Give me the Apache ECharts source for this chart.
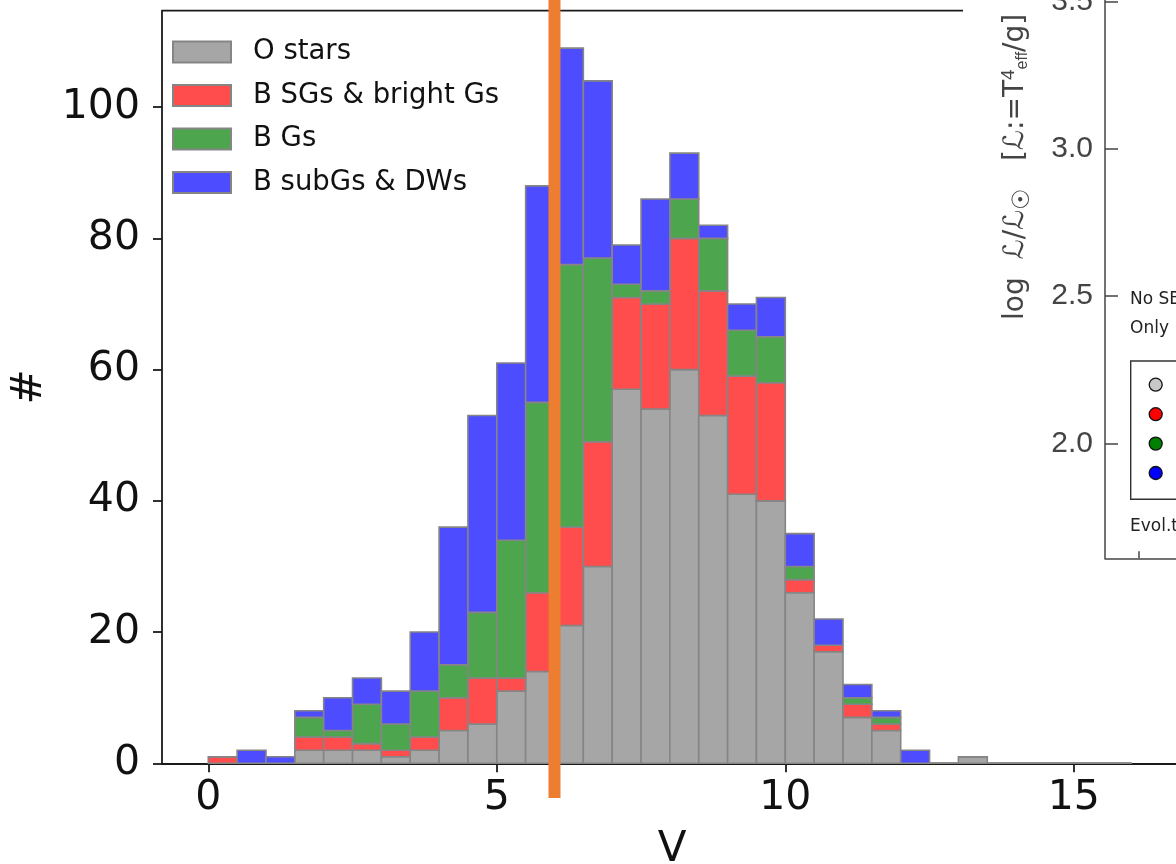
<!DOCTYPE html>
<html>
<head>
<meta charset="utf-8">
<script src="https://cdn.jsdelivr.net/npm/echarts@6/dist/echarts.min.js"></script>
<style>
html, body { margin: 0; padding: 0; background: #fff; }
#chart { width: 1176px; height: 864px; }
</style>
</head>
<body>
<div id="chart"></div>
<script>
// histogram bins (V magnitude), 0.5 mag wide starting at 0
var binStart = 0;
var binWidth = 0.5;
var oStars = [0, 0, 0, 2, 2, 2, 1, 2, 5, 6, 11, 14, 21, 30, 57, 54, 60, 53, 41, 40, 26, 17, 7, 5, 0, 0, 1, 0, 0, 0, 0, 0];
var bSGs   = [1, 0, 0, 2, 2, 1, 1, 2, 5, 7, 2, 12, 15, 19, 14, 16, 20, 19, 18, 18, 2, 1, 2, 1, 0, 0, 0, 0, 0, 0, 0, 0];
var bGs    = [0, 0, 0, 3, 1, 6, 4, 7, 5, 10, 21, 29, 40, 28, 2, 2, 6, 8, 7, 7, 2, 0, 1, 1, 0, 0, 0, 0, 0, 0, 0, 0];
var bSub   = [0, 2, 1, 1, 5, 4, 5, 9, 21, 30, 27, 33, 33, 27, 6, 14, 7, 2, 4, 6, 5, 4, 2, 1, 2, 0, 0, 0, 0, 0, 0, 0];
var seriesNames = ['O stars', 'B SGs & bright Gs', 'B Gs', 'B subGs & DWs'];
var seriesColors = ['#a6a6a6', '#ff4d4d', '#4da64d', '#4d4dff'];
var edgeColor = '#858585';
var xTicks = [0, 5, 10, 15];
var yTicks = [0, 20, 40, 60, 80, 100];
var cutV = 6;

// cropped neighbour panel on the right
var lumTicks = [2.0, 2.5, 3.0, 3.5];
var lumMinor = [1.7, 1.8, 1.9, 2.1, 2.2, 2.3, 2.4, 2.6, 2.7, 2.8, 2.9, 3.1, 3.2, 3.3, 3.4];
var lumLegendColors = ['#c8c8c8', '#ff0000', '#008000', '#0000ff'];

var chart = echarts.init(document.getElementById('chart'));

// stack the four classes: each rect is [x0, x1, bottom, top]
var counts = [oStars, bSGs, bGs, bSub];
var running = oStars.map(function () { return 0; });
var stacked = counts.map(function (arr) {
    return arr.map(function (v, i) {
        var x0 = binStart + binWidth * i;
        var item = [x0, x0 + binWidth, running[i], running[i] + v];
        running[i] += v;
        return item;
    });
});

function renderBin(k) {
    return function (params, api) {
        var p0 = api.coord([api.value(0), api.value(2)]);
        var p1 = api.coord([api.value(1), api.value(3)]);
        return {
            type: 'rect',
            shape: { x: p0[0], y: p1[1], width: p1[0] - p0[0], height: p0[1] - p1[1] },
            style: { fill: seriesColors[k], stroke: edgeColor, lineWidth: 1.6 }
        };
    };
}

var histSeries = stacked.map(function (rows, k) {
    return {
        name: seriesNames[k],
        type: 'custom',
        xAxisIndex: 0,
        yAxisIndex: 0,
        renderItem: renderBin(k),
        encode: { x: [0, 1], y: [2, 3] },
        itemStyle: { color: seriesColors[k], borderColor: edgeColor, borderWidth: 1.6 },
        data: rows
    };
});

var axisBlack = { color: '#1a1a1a', width: 1.8 };
var lumGrey = '#444';

var option = {
    animation: false,
    backgroundColor: '#fff',
    textStyle: { fontFamily: 'DejaVu Sans' },
    grid: [
        { left: 162, top: 10.7, right: -6, bottom: 100.7, outerBoundsMode: 'none', containLabel: false },
        { left: 1105, top: 0, right: -100, bottom: 305.7, outerBoundsMode: 'none', containLabel: false }
    ],
    legend: {
        orient: 'vertical',
        left: 172,
        top: 38,
        padding: 0,
        itemWidth: 58,
        itemHeight: 21,
        itemGap: 15.5,
        icon: 'rect',
        data: seriesNames,
        textStyle: {
            fontSize: 27.5,
            color: '#111',
            fontFamily: 'DejaVu Sans',
            padding: [0, 0, 0, 17]
        }
    },
    xAxis: [{
        type: 'value',
        gridIndex: 0,
        min: -0.802,
        max: 16.875,
        name: 'V',
        nameLocation: 'middle',
        nameGap: 66,
        nameTextStyle: { fontSize: 42, color: '#111' },
        axisLine: { onZero: false, lineStyle: axisBlack },
        axisTick: { show: true, length: 9, lineStyle: axisBlack, customValues: xTicks },
        axisLabel: { fontSize: 41, color: '#111', margin: 15, customValues: xTicks },
        splitLine: { show: false }
    }, {
        type: 'value',
        gridIndex: 1,
        min: 0,
        max: 1,
        axisLine: { onZero: false, lineStyle: { color: lumGrey, width: 1.5 } },
        axisTick: { show: true, inside: true, length: 7, lineStyle: { color: lumGrey, width: 1.5 }, customValues: [0.2] },
        axisLabel: { show: false },
        splitLine: { show: false }
    }],
    yAxis: [{
        type: 'value',
        gridIndex: 0,
        min: 0,
        max: 114.7,
        name: '#',
        nameLocation: 'middle',
        nameGap: 110,
        nameTextStyle: { fontSize: 42, color: '#111' },
        axisLine: { show: true, onZero: false, lineStyle: axisBlack },
        axisTick: { show: true, length: 9, lineStyle: axisBlack, customValues: yTicks },
        axisLabel: { fontSize: 41, color: '#111', margin: 22, customValues: yTicks },
        splitLine: { show: false }
    }, {
        type: 'value',
        gridIndex: 1,
        min: 1.6096,
        max: 3.5044,
        axisLine: { show: true, onZero: false, lineStyle: { color: lumGrey, width: 1.5 } },
        axisTick: { show: true, inside: true, length: 13, lineStyle: { color: lumGrey, width: 1.5 }, customValues: lumTicks },
        axisLabel: {
            fontSize: 30, color: lumGrey, margin: 12, fontFamily: 'Liberation Sans',
            customValues: lumTicks,
            formatter: function (v) { return v.toFixed(1); }
        },
        splitLine: { show: false }
    }, {
        type: 'value',
        gridIndex: 1,
        min: 1.6096,
        max: 3.5044,
        axisLine: { show: false, onZero: false },
        axisTick: { show: true, inside: true, length: 7, lineStyle: { color: lumGrey, width: 1.5 }, customValues: lumMinor },
        axisLabel: { show: false },
        splitLine: { show: false }
    }],
    series: histSeries
};

chart.setOption(option);

var cutX = chart.convertToPixel({ xAxisIndex: 0 }, cutV);

chart.setOption({
    graphic: [
        // top spine of the histogram (right part hidden by the neighbour panel)
        { type: 'line', z: 5, shape: { x1: 162, y1: 10.7, x2: 963, y2: 10.7 }, style: { stroke: '#1a1a1a', lineWidth: 1.8 } },
        // orange marker at V = 6
        { type: 'line', z: 20, shape: { x1: cutX, y1: 0, x2: cutX, y2: 798 }, style: { stroke: '#ed7d31', lineWidth: 12 } },
        // neighbour panel: y title
        {
            type: 'text', z: 10, x: 1016, y: 320, rotation: Math.PI / 2,
            style: {
                text: 'log  ℒ/ℒ{sun|☉}   [ℒ:=T{sup|4}{sub|eff}/g]',
                fontSize: 28, fill: lumGrey, fontFamily: 'DejaVu Sans',
                align: 'left', verticalAlign: 'middle',
                rich: {
                    sun: { fontSize: 24, fill: lumGrey, padding: [12, 0, 0, 0] },
                    sup: { fontSize: 19, fill: lumGrey, padding: [0, 0, 14, 0] },
                    sub: { fontSize: 16, fill: lumGrey, padding: [14, 0, 0, 0] }
                }
            }
        },
        { type: 'text', z: 10, x: 1130, y: 300, style: { text: 'No SB2', fontSize: 17, fill: '#222', fontFamily: 'DejaVu Sans', verticalAlign: 'middle' } },
        { type: 'text', z: 10, x: 1130, y: 329, style: { text: 'Only  s', fontSize: 17, fill: '#222', fontFamily: 'DejaVu Sans', verticalAlign: 'middle' } },
        { type: 'rect', z: 10, shape: { x: 1130.7, y: 361, width: 120, height: 138.3 }, style: { fill: 'none', stroke: '#333', lineWidth: 1.4 } },
        { type: 'circle', z: 11, shape: { cx: 1155.7, cy: 384.7, r: 6.5 }, style: { fill: lumLegendColors[0], stroke: '#111', lineWidth: 1.3 } },
        { type: 'circle', z: 11, shape: { cx: 1155.7, cy: 414.2, r: 6.5 }, style: { fill: lumLegendColors[1], stroke: '#111', lineWidth: 1.3 } },
        { type: 'circle', z: 11, shape: { cx: 1155.7, cy: 443.6, r: 6.5 }, style: { fill: lumLegendColors[2], stroke: '#111', lineWidth: 1.3 } },
        { type: 'circle', z: 11, shape: { cx: 1155.7, cy: 473, r: 6.5 }, style: { fill: lumLegendColors[3], stroke: '#111', lineWidth: 1.3 } },
        { type: 'text', z: 10, x: 1130, y: 527, style: { text: 'Evol.tracks', fontSize: 17, fill: '#222', fontFamily: 'DejaVu Sans', verticalAlign: 'middle' } }
    ]
});

window.onresize = function () {
    chart.resize();
};
</script>
</body>
</html>
